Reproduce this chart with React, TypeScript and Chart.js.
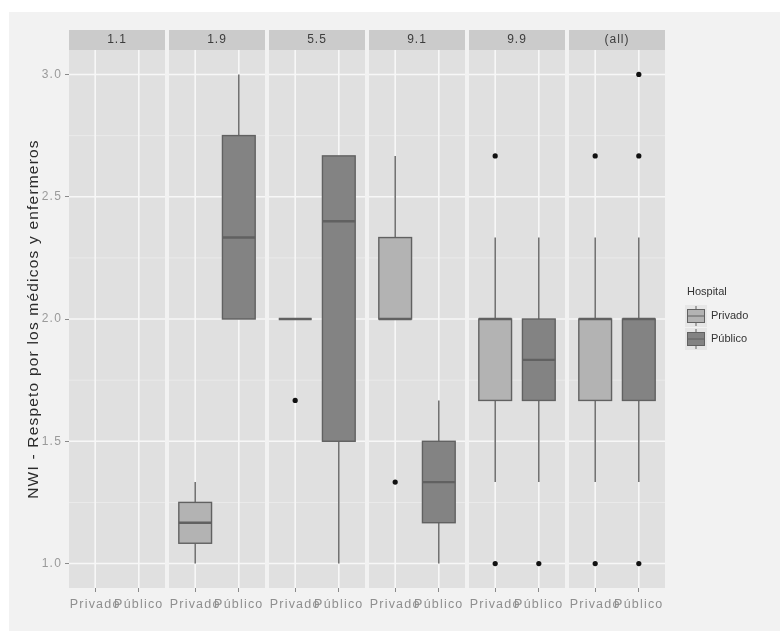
import React, { useEffect, useRef } from 'react';
import { Chart, registerables } from 'chart.js';

Chart.register(...registerables);

// ---------- data ----------
const panels = ['1.1', '1.9', '5.5', '9.1', '9.9', '(all)'];
const groups = ['Privado', 'Público'];
const yTicks = [1.0, 1.5, 2.0, 2.5, 3.0];
const yMinor = [1.25, 1.75, 2.25, 2.75];
// [lower whisker, Q1, median, Q3, upper whisker] per panel (null = no data)
const privadoStats: (number[] | null)[] = [
  null,
  [1.0, 1.083, 1.167, 1.25, 1.333],
  [2.0, 2.0, 2.0, 2.0, 2.0],
  [2.0, 2.0, 2.0, 2.333, 2.667],
  [1.333, 1.667, 2.0, 2.0, 2.333],
  [1.333, 1.667, 2.0, 2.0, 2.333],
];
const publicoStats: (number[] | null)[] = [
  null,
  [2.0, 2.0, 2.333, 2.75, 3.0],
  [1.0, 1.5, 2.4, 2.667, 2.667],
  [1.0, 1.167, 1.333, 1.5, 1.667],
  [1.333, 1.667, 1.833, 2.0, 2.333],
  [1.333, 1.667, 2.0, 2.0, 2.333],
];
const privadoOutliers = [[], [], [1.667], [1.333], [1.0, 2.667], [1.0, 2.667]];
const publicoOutliers = [[], [], [], [], [1.0], [1.0, 2.667, 3.0]];
const yTitle = 'NWI - Respeto por los médicos y enfermeros';
const legendTitle = 'Hospital';

// ---------- layout helpers (discrete facet positions) ----------
const PANEL_SPAN = 2.2;
const PANEL_GAP = 0.0917;
const STRIDE = PANEL_SPAN + PANEL_GAP;
const xOf = (p: number, g: number) => p * STRIDE + 0.6 + g;
const tickPositions: number[] = [];
panels.forEach((_, p) => groups.forEach((__, g) => tickPositions.push(xOf(p, g))));

const FONT = '"Liberation Sans", Arial, sans-serif';
const fills = ['#b3b3b3', '#838383'];
const outline = '#616161';
const allStats = [privadoStats, publicoStats];
const allOutliers = [privadoOutliers, publicoOutliers];

const line = (ctx: CanvasRenderingContext2D, x1: number, y1: number, x2: number, y2: number) => {
  ctx.beginPath();
  ctx.moveTo(x1, y1);
  ctx.lineTo(x2, y2);
  ctx.stroke();
};

const facetPlugin = {
  id: 'facet',
  beforeDraw(chart: any) {
    const { ctx, chartArea: ca, scales } = chart;
    const x = scales.x, y = scales.y;
    ctx.save();
    ctx.fillStyle = '#ffffff';
    ctx.fillRect(0, 0, chart.width, chart.height);
    ctx.fillStyle = '#f2f2f2';
    ctx.fillRect(9, 12, chart.width - 9, chart.height - 12);
    panels.forEach((name, p) => {
      const l = x.getPixelForValue(p * STRIDE);
      const r = x.getPixelForValue(p * STRIDE + PANEL_SPAN);
      ctx.fillStyle = '#e0e0e0';
      ctx.fillRect(l, ca.top, r - l, ca.bottom - ca.top);
      ctx.strokeStyle = '#ececec';
      ctx.lineWidth = 0.8;
      yMinor.forEach((v) => {
        const py = y.getPixelForValue(v);
        line(ctx, l, py, r, py);
      });
      ctx.strokeStyle = '#f7f7f7';
      ctx.lineWidth = 1.6;
      yTicks.forEach((v) => {
        const py = y.getPixelForValue(v);
        line(ctx, l, py, r, py);
      });
      groups.forEach((_, g) => {
        const px = x.getPixelForValue(xOf(p, g));
        line(ctx, px, ca.top, px, ca.bottom);
      });
      // strip
      ctx.fillStyle = '#cbcbcb';
      ctx.fillRect(l, ca.top - 20, r - l, 20);
      ctx.fillStyle = '#3d3d3d';
      ctx.font = `12px ${FONT}`;
      (ctx as any).letterSpacing = '1px';
      ctx.textAlign = 'center';
      ctx.textBaseline = 'middle';
      ctx.fillText(name, (l + r) / 2, ca.top - 10);
    });
    ctx.restore();
    (ctx as any).letterSpacing = '1.2px';
  },
  beforeDatasetsDraw(chart: any) {
    const { ctx, scales } = chart;
    const x = scales.x, y = scales.y;
    ctx.save();
    allStats.forEach((stats, g) => {
      stats.forEach((s, p) => {
        if (!s) return;
        const [lo, q1, med, q3, hi] = s;
        const xc = xOf(p, g);
        const px = x.getPixelForValue(xc);
        const xl = x.getPixelForValue(xc - 0.375);
        const xr = x.getPixelForValue(xc + 0.375);
        const yq1 = y.getPixelForValue(q1);
        const yq3 = y.getPixelForValue(q3);
        ctx.strokeStyle = outline;
        ctx.lineWidth = 1.4;
        if (hi > q3) line(ctx, px, y.getPixelForValue(hi), px, yq3);
        if (lo < q1) line(ctx, px, yq1, px, y.getPixelForValue(lo));
        ctx.fillStyle = fills[g];
        ctx.fillRect(xl, yq3, xr - xl, yq1 - yq3);
        ctx.strokeRect(xl, yq3, xr - xl, yq1 - yq3);
        ctx.lineWidth = 2.4;
        const ym = y.getPixelForValue(med);
        line(ctx, xl, ym, xr, ym);
      });
    });
    ctx.restore();
  },
  afterDraw(chart: any) {
    const { ctx, chartArea: ca } = chart;
    (ctx as any).letterSpacing = '0px';
    ctx.save();
    const lx = ca.right + 20;
    const midY = (ca.top + ca.bottom) / 2;
    ctx.fillStyle = '#333333';
    ctx.font = `11px ${FONT}`;
    ctx.textAlign = 'left';
    ctx.textBaseline = 'middle';
    ctx.fillText(legendTitle, lx + 2, midY - 27);
    groups.forEach((name, g) => {
      const top = midY - 14 + g * 23;
      ctx.fillStyle = '#e6e6e6';
      ctx.fillRect(lx, top, 22, 22);
      ctx.strokeStyle = outline;
      ctx.lineWidth = 1;
      line(ctx, lx + 11, top + 1, lx + 11, top + 21);
      ctx.fillStyle = fills[g];
      ctx.fillRect(lx + 2.5, top + 4.5, 17, 13);
      ctx.strokeRect(lx + 2.5, top + 4.5, 17, 13);
      line(ctx, lx + 2.5, top + 11, lx + 19.5, top + 11);
      ctx.fillStyle = '#333333';
      ctx.fillText(name, lx + 26, top + 11);
    });
    ctx.restore();
  },
};

export default function App() {
  const ref = useRef<HTMLCanvasElement>(null);
  useEffect(() => {
    if (!ref.current) return;
    const datasets = allOutliers.map((outs, g) => ({
      label: groups[g],
      data: outs.flatMap((vals, p) => vals.map((v) => ({ x: xOf(p, g), y: v }))),
      pointRadius: 2.6,
      pointHoverRadius: 2.6,
      backgroundColor: '#111111',
      borderWidth: 0,
    }));
    const chart = new Chart(ref.current, {
      type: 'scatter',
      data: { datasets },
      plugins: [facetPlugin],
      options: {
        responsive: false,
        animation: false,
        devicePixelRatio: 1,
        layout: { padding: { left: 0, right: 115, top: 50, bottom: 0 } },
        plugins: { legend: { display: false }, tooltip: { enabled: false } },
        scales: {
          x: {
            type: 'linear',
            min: 0,
            max: 5 * STRIDE + PANEL_SPAN,
            afterBuildTicks: (s: any) => {
              s.ticks = tickPositions.map((v) => ({ value: v }));
            },
            afterFit: (s: any) => {
              s.height = 43;
            },
            ticks: {
              autoSkip: false,
              maxRotation: 0,
              minRotation: 0,
              color: '#8f8f8f',
              font: { family: FONT, size: 12.5 },
              padding: 5,
              callback: (_v: any, i: number) => groups[i % 2],
            },
            grid: { drawOnChartArea: false, drawTicks: true, tickLength: 4, tickColor: '#8a8a8a', tickWidth: 1 },
            border: { display: false },
          },
          y: {
            type: 'linear',
            min: 0.9,
            max: 3.1,
            afterBuildTicks: (s: any) => {
              s.ticks = yTicks.map((v) => ({ value: v }));
            },
            afterFit: (s: any) => {
              s.width = 69;
            },
            ticks: {
              color: '#9a9a9a',
              font: { family: FONT, size: 12 },
              padding: 3,
              callback: (v: any) => Number(v).toFixed(1),
            },
            grid: { drawOnChartArea: false, drawTicks: true, tickLength: 4, tickColor: '#8a8a8a', tickWidth: 1 },
            border: { display: false },
            title: {
              display: true,
              text: yTitle,
              color: '#2b2b2b',
              font: { family: FONT, size: 15.5 },
              padding: { top: 24, bottom: 0 },
            },
          },
        },
      } as any,
    });
    return () => chart.destroy();
  }, []);
  return (
    <div style={{ position: 'fixed', left: 0, top: 0, width: 780, height: 631 }}>
      <canvas ref={ref} width={780} height={631} style={{ display: 'block' }} />
    </div>
  );
}
